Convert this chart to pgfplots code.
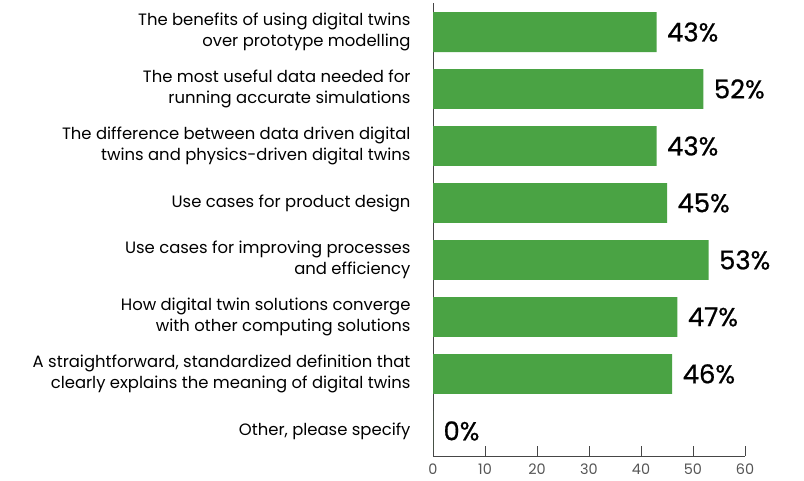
\documentclass[border=0pt]{standalone}
\usepackage{pgfplots}
\pgfplotsset{compat=1.18}
\usepackage{fontspec}
\setmainfont{Poppins}
\newfontfamily\valfont[FakeBold=0.7]{Poppins}
\definecolor{bargreen}{RGB}{74,163,68}
\definecolor{axisgray}{RGB}{70,70,70}
\definecolor{ticktext}{RGB}{85,85,85}
\begin{document}
\begin{tikzpicture}
\useasboundingbox (0bp,0bp) rectangle (804bp,-481bp);
\begin{axis}[
  at={(433bp,-456bp)}, anchor=south west,
  scale only axis, width=312bp, height=453bp,
  xbar, bar width=0.7,
  xmin=0, xmax=60, ymin=-0.44, ymax=7.51,
  axis x line=bottom, axis y line=left,
  axis line style={axisgray, line width=0.8pt, -},
  xtick={0,10,...,60},
  tick style={axisgray, line width=0.8pt},
  xtick pos=bottom, xtick align=inside,
  major tick length=10bp,
  ytick={0,...,7}, ytick style={draw=none},
  yticklabels={
    {Other, please specify},
    {A straightforward, standardized definition that\\clearly explains the meaning of digital twins},
    {How digital twin solutions converge\\with other computing solutions},
    {Use cases for improving processes\\and efficiency},
    {Use cases for product design},
    {The difference between data driven digital\\twins and physics-driven digital twins},
    {The most useful data needed for\\running accurate simulations},
    {The benefits of using digital twins\\over prototype modelling}},
  yticklabel style={align=right, font=\fontsize{16.5}{21}\selectfont, text=black, xshift=-14bp},
  xticklabel style={font=\fontsize{14.5}{16}\selectfont, text=ticktext, yshift=-4bp},
  /pgf/number format/assume math mode=true,
  nodes near coords={\pgfmathprintnumber{\pgfplotspointmeta}\%},
  nodes near coords style={font=\valfont\fontsize{26}{28}\selectfont, text=black, anchor=west, xshift=7bp},
  point meta=explicit,
]
\addplot[fill=bargreen, draw=none] coordinates {
  (43,7) [43] (52,6) [52] (43,5) [43] (45,4) [45]
  (53,3) [53] (47,2) [47] (46,1) [46] (0,0) [0]
};
\end{axis}
\end{tikzpicture}
\end{document}
